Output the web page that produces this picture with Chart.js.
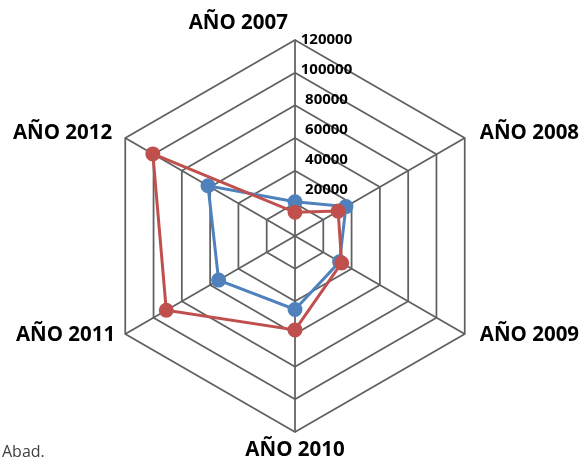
<!DOCTYPE html>
<html>
<head>
<meta charset="utf-8">
<script src="https://cdn.jsdelivr.net/npm/chart.js@4"></script>
<style>
  html, body { margin: 0; padding: 0; background: #ffffff; }
  #wrap { position: relative; width: 584px; height: 460px; }
  #note { position: absolute; left: 2px; top: 440px; font: 16px "Open Sans", sans-serif; color: #404040; }
</style>
</head>
<body>
<div id="wrap">
  <canvas id="c" width="584" height="460"></canvas>
  <div id="note">Abad.</div>
</div>
<script>
const categories = ["AÑO 2007", "AÑO 2008", "AÑO 2009", "AÑO 2010", "AÑO 2011", "AÑO 2012"];
const seriesBlue = [21000, 36000, 31500, 45000, 54000, 61500];
const seriesRed = [14500, 30500, 33000, 57500, 91000, 100500];
const tickMax = 120000;
const tickStep = 20000;

// per-label placement relative to its vertex (style only)
const labelPlacement = [
  { align: "right", dx: -7, dy: -17 },
  { align: "left", dx: 15, dy: -5 },
  { align: "left", dx: 15, dy: 1 },
  { align: "center", dx: 0, dy: 18 },
  { align: "right", dx: -10, dy: 1 },
  { align: "right", dx: -13, dy: -5 }
];

const labelPlugin = {
  id: "labels",
  afterDraw(chart) {
    const scale = chart.scales.r;
    const ctx = chart.ctx;
    ctx.save();
    ctx.font = "bold 15px 'Open Sans', sans-serif";
    ctx.fillStyle = "#000000";
    ctx.textAlign = "center";
    ctx.textBaseline = "middle";
    scale.ticks.forEach(t => {
      if (t.value === 0) return;
      const d = scale.getDistanceFromCenterForValue(t.value);
      const y = scale.yCenter - (d * 0.918 + 16.6);
      ctx.fillText(String(t.value), scale.xCenter + 31.5, y);
    });
    ctx.font = "bold 20.5px 'Open Sans', sans-serif";
    categories.forEach((lab, i) => {
      const p = scale.getPointPosition(i, scale.drawingArea);
      const pl = labelPlacement[i];
      ctx.textAlign = pl.align;
      ctx.fillText(lab, p.x + pl.dx, p.y + pl.dy);
    });
    ctx.restore();
  }
};

new Chart(document.getElementById("c"), {
  type: "radar",
  data: {
    labels: categories,
    datasets: [
      {
        label: "Serie 2",
        data: seriesRed,
        borderColor: "#c0504d",
        backgroundColor: "#c0504d",
        pointBackgroundColor: "#c0504d",
        pointBorderColor: "#c0504d",
        borderWidth: 3,
        pointRadius: 6,
        fill: false
      },
      {
        label: "Serie 1",
        data: seriesBlue,
        borderColor: "#4f81bd",
        backgroundColor: "#4f81bd",
        pointBackgroundColor: "#4f81bd",
        pointBorderColor: "#4f81bd",
        borderWidth: 3,
        pointRadius: 6,
        fill: false
      }
    ]
  },
  options: {
    responsive: false,
    animation: false,
    layout: { padding: { left: 60, right: 54, top: 40, bottom: 28 } },
    plugins: { legend: { display: false }, tooltip: { enabled: false } },
    elements: { line: { tension: 0 } },
    scales: {
      r: {
        min: 0,
        max: tickMax,
        beginAtZero: true,
        ticks: { stepSize: tickStep, display: false },
        grid: { color: "#606060", lineWidth: 1.75 },
        angleLines: { color: "#606060", lineWidth: 1.75 },
        pointLabels: { display: false }
      }
    }
  },
  plugins: [labelPlugin]
});
</script>
</body>
</html>
